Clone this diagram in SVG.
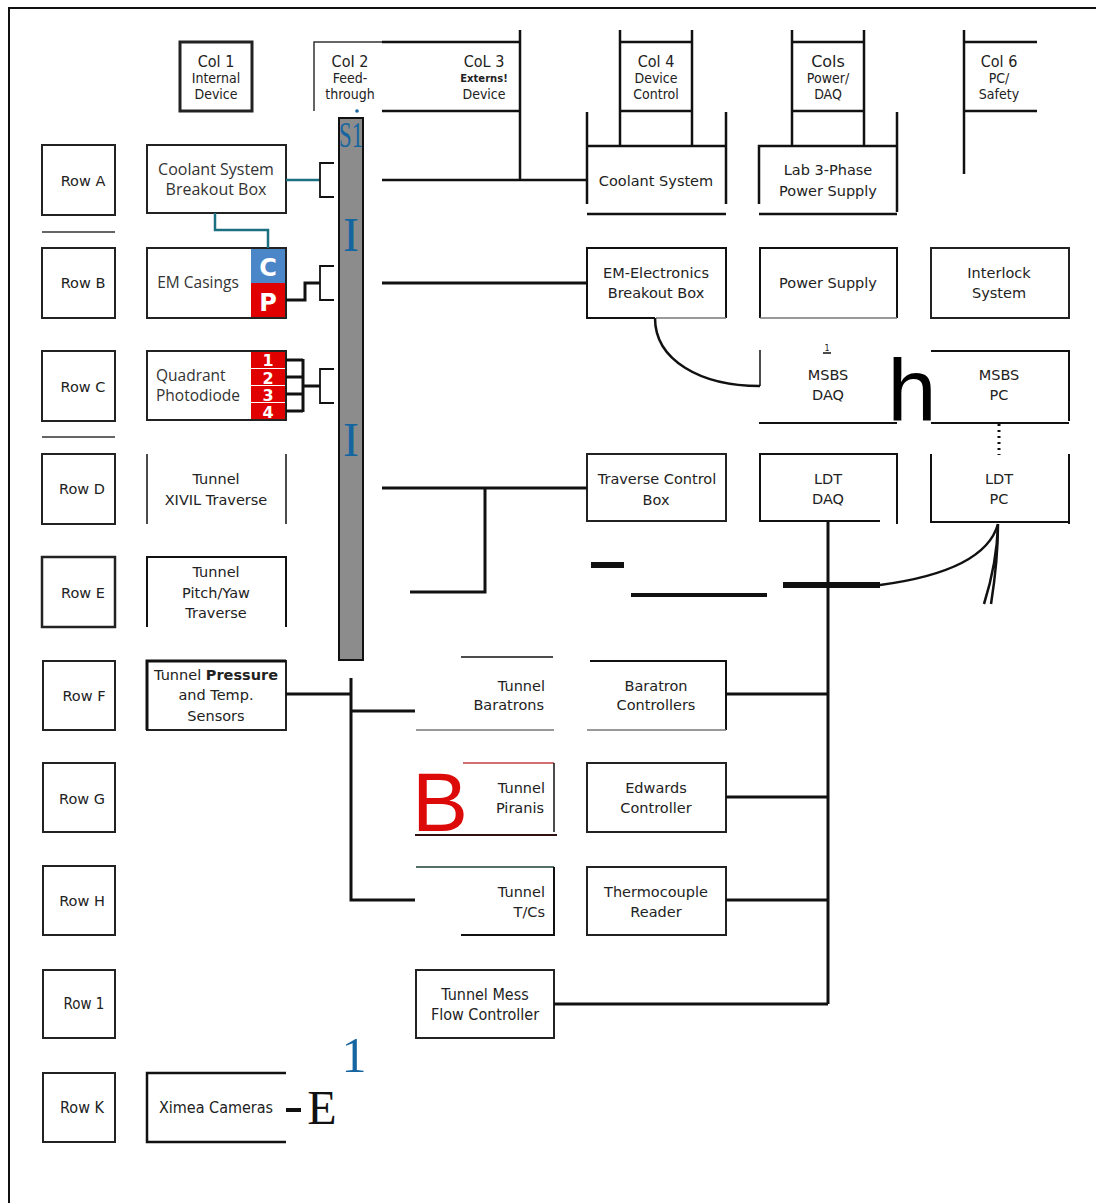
<svg xmlns="http://www.w3.org/2000/svg" width="1096" height="1203" viewBox="0 0 1096 1203">
<style>
.t{font-family:"DejaVu Sans","Liberation Sans",sans-serif;font-size:14.5px;fill:#222;text-anchor:middle}
.tc{font-family:"DejaVu Sans Condensed","DejaVu Sans","Liberation Sans",sans-serif;font-size:14px;fill:#222;text-anchor:middle;font-stretch:condensed}
.ts{font-family:"Open Sans","Noto Sans",sans-serif;font-size:15px;fill:#333;text-anchor:middle}
.ln{stroke:#111;stroke-width:2;fill:none}
.lt{stroke:#111;stroke-width:3;fill:none}
.lg{stroke:#777;stroke-width:1.5;fill:none}
.bx{fill:#fff;stroke:#222;stroke-width:2}
.cell{font-family:"DejaVu Sans","Liberation Sans",sans-serif;font-weight:bold;fill:#fff;text-anchor:middle}
.blue{font-family:"Liberation Serif","DejaVu Serif",serif;fill:#1565a0;text-anchor:middle}
</style>
<rect width="1096" height="1203" fill="#fff"/>
<path d="M9,1203 V8 H1096" class="ln"/>

<g id="headers">
  <g id="col1"><rect x="180" y="42" width="72" height="69" class="bx" style="stroke-width:3"/>
    <text x="216" y="67" class="tc" style="font-size:16px">Col 1</text><text x="216" y="83" class="tc">Internal</text><text x="216" y="99" class="tc">Device</text></g>
  <g id="col2"><path d="M314,111 V42 H382" class="lg" style="stroke:#333"/>
    <text x="350" y="67" class="tc" style="font-size:16px">CoI 2</text><text x="350" y="83" class="tc">Feed-</text><text x="350" y="99" class="tc">through</text>
    <circle cx="357" cy="111" r="1.8" fill="#1565a0"/></g>
  <g id="col3"><path d="M382,42 H520 M382,111 H520 M520,30 V180" class="lt" style="stroke-width:2.5"/>
    <text x="484" y="67" class="tc" style="font-size:16px">CoL 3</text><text x="484" y="82" class="t" style="font-size:10px;font-weight:bold">Externs!</text><text x="484" y="99" class="tc">Device</text></g>
  <g id="col4"><path d="M620,30 V146 M692,30 V146 M620,42 H692 M620,111 H692" class="ln" style="stroke-width:2.5"/>
    <text x="656" y="67" class="tc" style="font-size:16px">Col 4</text><text x="656" y="83" class="tc">Device</text><text x="656" y="99" class="tc">Control</text></g>
  <g id="col5"><path d="M792,30 V146 M864,30 V146 M792,42 H864 M792,111 H864" class="ln" style="stroke-width:2.5"/>
    <text x="828" y="67" class="t" style="font-size:16px">Cols</text><text x="828" y="83" class="tc">Power/</text><text x="828" y="99" class="tc">DAQ</text></g>
  <g id="col6"><path d="M964,30 V174 M964,42 H1037 M964,111 H1037" class="ln" style="stroke-width:2.5"/>
    <text x="999" y="67" class="tc" style="font-size:16px">Col 6</text><text x="999" y="83" class="tc">PC/</text><text x="999" y="99" class="tc">Safety</text></g>
</g>

<g id="rows">
  <g id="rowA"><rect x="42" y="145" width="73" height="70" class="bx"/><text x="83" y="186" class="t">Row A</text></g>
  <path d="M42,232 H115 M42,437 H115" class="lg" style="stroke:#333"/>
  <g id="rowB"><rect x="42" y="248" width="73" height="70" class="bx"/><text x="83" y="288" class="t">Row B</text></g>
  <g id="rowC"><rect x="42" y="351" width="73" height="70" class="bx"/><text x="83" y="392" class="t">Row C</text></g>
  <g id="rowD"><rect x="42" y="454" width="73" height="70" class="bx"/><text x="82" y="494" class="t">Row D</text></g>
  <g id="rowE"><rect x="42" y="557" width="73" height="70" class="bx" style="stroke-width:2.5"/><text x="83" y="598" class="t">Row E</text></g>
  <g id="rowF"><rect x="43" y="661" width="72" height="69" class="bx"/><text x="84" y="701" class="t">Row F</text></g>
  <g id="rowG"><rect x="43" y="763" width="72" height="69" class="bx"/><text x="82" y="804" class="t">Row G</text></g>
  <g id="rowH"><rect x="43" y="866" width="72" height="69" class="bx"/><text x="82" y="906" class="t">Row H</text></g>
  <g id="row1"><rect x="43" y="970" width="72" height="68" class="bx"/><text x="84" y="1009" class="tc" style="font-size:15px">Row 1</text></g>
  <g id="rowK"><rect x="43" y="1073" width="72" height="69" class="bx"/><text x="82" y="1113" class="tc" style="font-size:16px">Row K</text></g>
</g>

<g id="feedthrough">
  <rect x="339" y="118" width="24" height="542" fill="#8c8c8c" stroke="#111" stroke-width="2"/>
  <text x="351" y="147" class="blue" font-size="36" textLength="24" lengthAdjust="spacingAndGlyphs">S1</text>
  <text x="351" y="251" class="blue" font-size="48">I</text>
  <text x="351" y="456" class="blue" font-size="48">I</text>
</g>

<g id="coolantBreakout"><rect x="147" y="145" width="139" height="68" class="bx"/>
  <text x="216" y="175" class="ts" style="font-size:16px">Coolant System</text><text x="216" y="195" class="ts" style="font-size:16px">Breakout Box</text></g>
<g id="emCasings"><rect x="147" y="248" width="139" height="70" class="bx"/>
  <rect x="251" y="249" width="35" height="34" fill="#4a86c8"/><rect x="251" y="283" width="35" height="35" fill="#e00000"/>
  <rect x="147" y="248" width="139" height="70" fill="none" stroke="#222" stroke-width="2"/>
  <text x="198" y="288" class="ts" style="font-size:15.5px">EM Casings</text>
  <text x="268" y="276" class="cell" font-size="24">C</text><text x="268" y="311" class="cell" font-size="24">P</text></g>
<g id="quadrant"><rect x="147" y="351" width="139" height="69" class="bx"/>
  <rect x="251" y="352" width="35" height="16" fill="#e00000"/><rect x="251" y="369" width="35" height="16" fill="#e00000"/>
  <rect x="251" y="386" width="35" height="16" fill="#e00000"/><rect x="251" y="403" width="35" height="17" fill="#e00000"/>
  <rect x="147" y="351" width="139" height="69" fill="none" stroke="#222" stroke-width="2"/>
  <text x="156" y="381" class="ts" style="text-anchor:start;font-size:15.5px">Quadrant</text><text x="156" y="401" class="ts" style="text-anchor:start;font-size:15.5px">Photodiode</text>
  <text x="268" y="366" class="cell" font-size="16">1</text><text x="268" y="384" class="cell" font-size="16">2</text>
  <text x="268" y="401" class="cell" font-size="16">3</text><text x="268" y="418" class="cell" font-size="16">4</text></g>
<g id="xivil"><path d="M147,454 V524 M286,454 V524" class="ln" style="stroke-width:1.5"/>
  <text x="216" y="484" class="t">Tunnel</text><text x="216" y="505" class="t">XIVIL Traverse</text></g>
<g id="pitchyaw"><path d="M147,627 V557 H286 V627" class="ln"/>
  <text x="216" y="577" class="t">Tunnel</text><text x="216" y="598" class="t">Pitch/Yaw</text><text x="216" y="618" class="t">Traverse</text></g>
<g id="pressure"><rect x="147" y="661" width="139" height="69" class="bx"/><path d="M147,730 V661 H286" class="lt"/>
  <text x="216" y="680" class="t">Tunnel <tspan font-weight="bold">Pressure</tspan></text><text x="216" y="700" class="t">and Temp.</text><text x="216" y="721" class="t">Sensors</text></g>
<g id="ximea"><path d="M286,1073 H147 V1142 H286" class="ln" style="stroke-width:2.5"/>
  <text x="216" y="1113" class="tc" style="font-size:16px">Ximea Cameras</text>
  <text x="322" y="1124" font-family="Liberation Serif,serif" font-size="48" text-anchor="middle" fill="#111">E</text>
  <text x="354" y="1072" class="blue" font-size="50">1</text></g>

<g id="baratrons"><path d="M461,657 H553" class="ln" style="stroke-width:1.5"/><path d="M416,730 H554" class="lg"/>
  <text x="545" y="691" class="t" style="text-anchor:end">Tunnel</text><text x="544" y="710" class="t" style="text-anchor:end">Baratrons</text></g>
<g id="piranis"><path d="M463,763 H554" stroke="#c04040" stroke-width="1.5"/><path d="M554,763 V832" class="ln" style="stroke-width:1.5"/><path d="M415,835 H557" stroke="#301010" stroke-width="2"/>
  <text x="545" y="793" class="t" style="text-anchor:end">Tunnel</text><text x="544" y="813" class="t" style="text-anchor:end">Piranis</text>
  <text x="440" y="831" font-family="Liberation Sans,sans-serif" font-size="84" fill="#dd0a0a" text-anchor="middle">B</text></g>
<g id="tcs"><path d="M416,867 H554" stroke="#1d4030" stroke-width="1.5"/><path d="M554,867 V935 H461" class="ln"/>
  <text x="545" y="897" class="t" style="text-anchor:end">Tunnel</text><text x="545" y="917" class="t" style="text-anchor:end">T/Cs</text></g>
<g id="massflow"><rect x="416" y="970" width="138" height="68" class="bx"/>
  <text x="485" y="1000" class="tc" style="font-size:16px">Tunnel Mess</text><text x="485" y="1020" class="tc" style="font-size:16px">Flow Controller</text></g>

<g id="coolantSystem"><path d="M587,112 V204 M726,112 V204 M587,146 H726" class="ln" style="stroke-width:2.5"/><path d="M587,214 H726" class="ln" style="stroke-width:2.5"/>
  <text x="656" y="186" class="t">Coolant System</text></g>
<g id="emElectronics"><path d="M655,318 H587 V248 H726 V318" class="ln"/><path d="M656,318 H726" class="lg"/>
  <text x="656" y="278" class="t">EM-Electronics</text><text x="656" y="298" class="t">Breakout Box</text></g>
<g id="traverseCtrl"><rect x="587" y="454" width="139" height="67" class="bx"/>
  <text x="657" y="484" class="t">Traverse Control</text><text x="656" y="505" class="t">Box</text></g>
<g id="baratronCtrl"><path d="M590,661 H726 V730" class="ln"/><path d="M587,730 H726" class="lg"/>
  <text x="656" y="691" class="t">Baratron</text><text x="656" y="710" class="t">Controllers</text></g>
<g id="edwards"><rect x="587" y="763" width="139" height="69" class="bx"/>
  <text x="656" y="793" class="t">Edwards</text><text x="656" y="813" class="t">Controller</text></g>
<g id="thermo"><rect x="587" y="867" width="139" height="68" class="bx"/>
  <text x="656" y="897" class="t">Thermocouple</text><text x="656" y="917" class="t">Reader</text></g>

<g id="lab3phase"><path d="M759,204 V146 H897 M897,112 V212" class="ln" style="stroke-width:2.5"/><path d="M759,214 H897" class="ln" style="stroke-width:2.5"/>
  <text x="828" y="175" class="t">Lab 3-Phase</text><text x="828" y="196" class="t">Power Supply</text></g>
<g id="powerSupply"><path d="M760,318 V248 H897 V318" class="ln"/><path d="M760,318 H897" class="lg"/>
  <text x="828" y="288" class="t">Power Supply</text></g>
<g id="msbsDaq"><path d="M760,350 V386" class="ln" style="stroke-width:1.5"/><path d="M759,423 H897" class="ln"/>
  <text x="827" y="351" class="t" style="font-size:8px">1</text><path d="M823,353 H831" stroke="#111" stroke-width="1.5"/>
  <text x="828" y="380" class="t">MSBS</text><text x="828" y="400" class="t">DAQ</text>
  <text x="912" y="420" font-family="Liberation Sans,sans-serif" font-size="88" text-anchor="middle" fill="#000">h</text></g>
<g id="ldtDaq"><path d="M880,521 H760 V454 H897 V524" class="ln"/>
  <text x="828" y="484" class="t">LDT</text><text x="828" y="504" class="t">DAQ</text></g>

<g id="interlock"><rect x="931" y="248" width="138" height="70" class="bx"/>
  <text x="999" y="278" class="t">Interlock</text><text x="999" y="298" class="t">System</text></g>
<g id="msbsPc"><path d="M931,351 H1069 V421 M931,423 H1069" class="ln"/>
  <text x="999" y="380" class="t">MSBS</text><text x="999" y="400" class="t">PC</text></g>
<g id="ldtPc"><path d="M931,454 V522 H1069 M1069,454 V524" class="ln"/>
  <text x="999" y="484" class="t">LDT</text><text x="999" y="504" class="t">PC</text></g>

<g id="connectors">
  <path d="M286,180 H320" stroke="#1a6f80" stroke-width="2.5" fill="none"/>
  <path d="M215,213 V230 H268 V248" stroke="#1a6f80" stroke-width="2.5" fill="none"/>
  <path d="M334,163 H320 V197 H334" class="ln" style="stroke-width:1.8"/>
  <path d="M286,300 H305 V283 H320" class="lt"/>
  <path d="M334,266 H320 V300 H334" class="ln" style="stroke-width:1.8"/>
  <path d="M286,360 H303 M286,377 H303 M286,394 H303 M286,411 H303 M303,359 V412 M303,386 H320" class="lt"/>
  <path d="M334,369 H320 V403 H334" class="ln" style="stroke-width:1.8"/>
  <path d="M382,180 H587" class="ln" style="stroke-width:2.5"/>
  <path d="M382,283 H587" class="lt"/>
  <path d="M382,488 H587 M485,488 V592 H410" class="lt"/>
  <path d="M286,694 H351 M351,678 V900 H415 M351,711 H415" class="lt"/>
  <path d="M655,318 C655,360 700,386 760,386" class="lt" style="stroke-width:2.5"/>
  <path d="M999,424 V455" stroke="#111" stroke-width="3" stroke-dasharray="2,4"/>
  <path d="M726,694 H828 M726,797 H828 M726,900 H828 M554,1004 H828 M828,521 V1004" class="lt"/>
  <path d="M783,585 H880" stroke="#111" stroke-width="6"/>
  <path d="M880,585 C940,577 988,560 998,524" class="lt" style="stroke-width:2.5"/>
  <path d="M998,524 C997,560 990,585 984,604 M998,524 C998,560 994,585 991,604" class="lt" style="stroke-width:2.5"/>
  <path d="M591,565 H624" stroke="#111" stroke-width="6"/>
  <path d="M631,595 H767" stroke="#111" stroke-width="4"/>
  <path d="M286,1110 H301" stroke="#111" stroke-width="4"/>
</g>
</svg>
